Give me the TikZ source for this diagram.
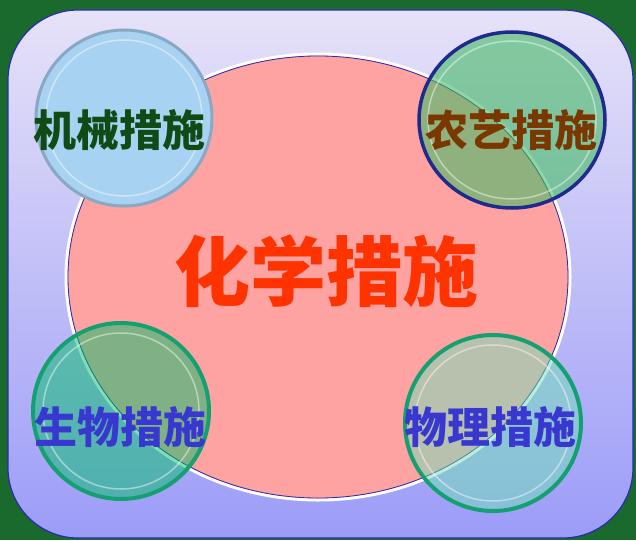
\documentclass[tikz,border=0pt]{standalone}
\usepackage{fontspec}
\newfontfamily\cjk{Noto Sans CJK SC}
\usetikzlibrary{shapes.geometric}
\definecolor{bggreen}{HTML}{1A6A2E}
\definecolor{frameblue}{HTML}{2A2AB0}
\definecolor{toplav}{HTML}{E6E2F8}
\definecolor{botlav}{HTML}{9C9CF8}
\definecolor{pinkfill}{HTML}{FFA2A2}
\definecolor{jxfill}{HTML}{A8D2F2}
\definecolor{jxring}{HTML}{88A8C4}
\definecolor{nyfill}{HTML}{43BB65}
\definecolor{nyring}{HTML}{1E2A8E}
\definecolor{swfill}{HTML}{00C068}
\definecolor{wlfill}{HTML}{70E0B8}
\definecolor{greenring}{HTML}{14A070}
\definecolor{txgreen}{HTML}{104A14}
\definecolor{txbrown}{HTML}{7A3800}
\definecolor{txblue}{HTML}{3838D0}
\definecolor{txred}{HTML}{FF3300}
\tikzset{
  disc/.style={circle, inner sep=0pt, minimum size=176pt},
  gloss/.style={draw=white, draw opacity=0.45, line width=1.5pt, fill=none},
  lbl/.style={font=\cjk\bfseries\fontsize{43}{43}\selectfont, inner sep=0pt},
}
\begin{document}
\begin{tikzpicture}[x=1pt,y=-1pt]
\fill[bggreen] (0,0) rectangle (636,540);
\useasboundingbox (0,0) rectangle (636,540);
\shade[top color=toplav, bottom color=botlav, rounded corners=70pt] (8,10) rectangle (633,538);
\draw[frameblue, line width=1.2pt, rounded corners=70pt] (8,10) rectangle (633,538);
% central ellipse
\node[ellipse, draw=white, line width=3pt, fill=pinkfill, minimum width=504pt, minimum height=446pt, inner sep=0pt] (chem) at (318,277) {};
\draw[frameblue, line width=0.8pt] (318,277) ellipse [x radius=250pt, y radius=221pt];
% circles
\node[disc, fill=jxfill, draw=jxring, line width=3pt] (jx) at (124,118) {};
\draw[gloss] (124,118) circle [radius=78pt];
\node[disc, fill=nyfill, fill opacity=0.6, draw=nyring, line width=3.5pt, minimum width=186pt, minimum height=176pt, ellipse] (ny) at (512,120) {};
\draw[gloss] (512,120) ellipse [x radius=84pt, y radius=79pt];
\node[disc, fill=swfill, fill opacity=0.5, draw=greenring, line width=4pt, minimum size=176pt] (sw) at (121,411) {};
\draw[gloss] (121,411) circle [radius=78pt];
\node[disc, fill=wlfill, fill opacity=0.5, draw=greenring, line width=4pt, minimum size=176pt] (wl) at (493,423) {};
\draw[gloss] (493,423) circle [radius=78pt];
% labels
\node[lbl, text=txred, font=\cjk\bfseries\fontsize{76}{76}\selectfont] (tchem) at (326,271) {化学措施};
\node[lbl, text=txgreen] (tjx) at (119,130) {机械措施};
\node[lbl, text=txbrown] (tny) at (511,130) {农艺措施};
\node[lbl, text=txblue] (tsw) at (120,427) {生物措施};
\node[lbl, text=txblue] (twl) at (490,427) {物理措施};
\end{tikzpicture}
\end{document}
